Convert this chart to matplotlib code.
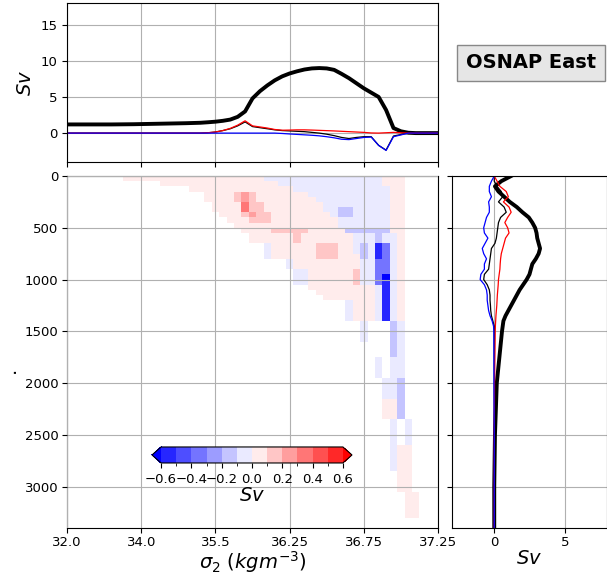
import numpy as np
import matplotlib
matplotlib.use('Agg')
import matplotlib.pyplot as plt
from matplotlib.colors import BoundaryNorm

# density axis: tick labels sit on evenly spaced bin indices
sigma_labels = ['32.0', '34.0', '35.5', '36.25', '36.75', '37.25']
sigma_tick_idx = [0, 10, 20, 30, 40, 50]
bin_idx = list(range(51))

# top panel, transport per density bin (Sv)
total_top = [1.20, 1.20, 1.20, 1.20, 1.20, 1.20, 1.20, 1.21, 1.22, 1.23,
             1.25, 1.27, 1.29, 1.31, 1.33, 1.35, 1.37, 1.40, 1.43, 1.50,
             1.58, 1.70, 1.87, 2.25, 3.00, 4.80, 5.80, 6.60, 7.30, 7.85,
             8.25, 8.55, 8.80, 8.95, 9.00, 8.95, 8.75, 8.20, 7.60, 6.90,
             6.20, 5.60, 5.00, 3.20, 0.70, 0.25, 0.05, 0.00, 0.00, 0.00,
             0.00]
red_top = [0.0, 0.0, 0.0, 0.0, 0.0, 0.0, 0.0, 0.0, 0.0, 0.0,
           0.0, 0.0, 0.0, 0.0, 0.0, 0.0, 0.0, 0.0, 0.0, 0.05,
           0.15, 0.35, 0.65, 1.10, 1.70, 1.00, 0.85, 0.70, 0.50, 0.40,
           0.42, 0.45, 0.45, 0.42, 0.38, 0.34, 0.30, 0.25, 0.20, 0.15,
           0.10, 0.02, 0.00, 0.05, 0.10, 0.05, 0.0, 0.0, 0.0, 0.0,
           0.0]
blue_top = [0.0, 0.0, 0.0, 0.0, 0.0, 0.0, 0.0, 0.0, 0.0, 0.0,
            0.0, 0.0, 0.0, 0.0, 0.0, 0.0, 0.0, 0.0, 0.0, 0.0,
            0.0, 0.0, 0.0, 0.0, 0.0, 0.0, 0.0, 0.0, 0.0, -0.05,
            -0.12, -0.18, -0.24, -0.30, -0.38, -0.50, -0.65, -0.85, -0.90, -0.75,
            -0.60, -0.55, -1.70, -2.40, -0.50, -0.25, 0.0, 0.0, 0.0, 0.0,
            0.0]
sum_top = [0.0, 0.0, 0.0, 0.0, 0.0, 0.0, 0.0, 0.0, 0.0, 0.0,
           0.0, 0.0, 0.0, 0.0, 0.0, 0.0, 0.0, 0.0, 0.0, 0.05,
           0.15, 0.35, 0.60, 1.00, 1.55, 0.90, 0.75, 0.60, 0.45, 0.35,
           0.30, 0.25, 0.20, 0.10, 0.00, -0.15, -0.35, -0.60, -0.75, -0.60,
           -0.50, -0.50, -1.70, -2.35, -0.40, -0.20, 0.0, 0.0, 0.0, 0.0,
           0.0]

# right panel, transport per depth (Sv)
depth_prof = [0, 50, 100, 150, 200, 250, 300, 350, 400, 450, 500, 550, 600, 650,
              700, 750, 800, 850, 900, 950, 1000, 1050, 1100, 1150, 1200, 1250,
              1300, 1350, 1400, 1450, 1500, 2000, 2500, 3000, 3400]
total_prof = [1.2, 0.5, 0.05, 0.3, 0.7, 1.1, 1.6, 2.0, 2.45, 2.7, 2.9, 3.0, 3.05, 3.15,
              3.25, 3.15, 2.95, 2.7, 2.6, 2.5, 2.3, 2.05, 1.8, 1.6, 1.4, 1.2,
              1.0, 0.8, 0.65, 0.6, 0.55, 0.18, 0.05, 0.0, 0.0]
red_prof = [0.0, 0.2, 0.4, 0.85, 1.0, 0.65, 1.05, 1.2, 0.95, 0.75, 0.95, 1.05, 0.8, 0.7,
            0.6, 0.5, 0.45, 0.42, 0.4, 0.35, 0.3, 0.28, 0.25, 0.22, 0.2, 0.18,
            0.15, 0.12, 0.1, 0.08, 0.07, 0.02, 0.0, 0.0, 0.0]
blue_prof = [0.0, -0.2, -0.35, -0.35, -0.2, -0.4, -0.35, -0.35, -0.55, -0.65, -0.75, -0.7, -0.45, -0.65,
             -0.85, -0.75, -0.55, -0.7, -0.7, -0.95, -1.0, -0.7, -0.55, -0.5, -0.5, -0.45,
             -0.4, -0.3, -0.15, -0.05, -0.03, -0.02, 0.0, 0.0, 0.0]
sum_prof = [0.0, 0.0, 0.2, 0.5, 0.6, 0.3, 0.7, 0.85, 0.45, 0.3, 0.25, 0.2, 0.15, 0.05,
            -0.2, -0.25, -0.3, -0.35, -0.4, -0.7, -0.75, -0.5, -0.35, -0.3, -0.3, -0.27,
            -0.25, -0.2, -0.1, 0.0, 0.0, 0.0, 0.0, 0.0, 0.0]

# depth x density map, 50 m rows; "cols+code" runs per row (range)
level_of = {'p': 0.05, 'q': 0.15, 'r': 0.25, 's': 0.35,
            'b': -0.05, 'c': -0.15, 'e': -0.35, 'g': -0.55, 'h': -0.7}
cell_runs = {
    '0': '8-26p 27-42b 43-45p',
    '1': '13-28p 29-42b 43-45p',
    '2': '17-30p 31-43b 44-45p',
    '3': '19-22p 23-23q 24-24r 25-25q 26-32p 33-43b 44-45p',
    '4': '19-22p 23-23q 24-24r 25-25q 26-33p 34-43b 44-45p',
    '5': '20-23p 24-24s 25-26q 27-34p 35-43b 44-45p',
    '6': '20-23p 24-24s 25-26q 27-34p 35-36b 37-38c 39-43b 44-45p',
    '7': '21-23p 24-24q 25-25r 26-27q 28-35p 36-36b 37-38c 39-43b 44-45p',
    '8': '22-24p 25-27q 28-36p 37-43b 44-45p',
    '9': '23-36p 37-43b 44-45p',
    '10': '24-27p 28-32q 33-37p 38-43c 44-45p',
    '11-12': '25-30p 31-31q 32-38p 39-41b 42-42c 43-44b 45-45p',
    '13-14': '27-27b 28-33p 34-36q 37-38p 39-39b 40-40c 41-41b 42-42g 43-43e 44-44b 45-45p',
    '15': '27-27b 28-33p 34-36q 37-39p 40-40c 41-41b 42-42g 43-43e 44-44b 45-45p',
    '16-17': '30-30b 31-39p 40-41b 42-43e 44-44b 45-45p',
    '18': '31-32b 33-38p 39-39q 40-41b 42-43e 44-44b 45-45p',
    '19': '31-32b 33-38p 39-39q 40-41b 42-42e 43-43h 44-44b 45-45p',
    '20': '31-32b 33-38p 39-39q 40-41b 42-42e 43-43g 44-44b 45-45p',
    '21': '33-41p 42-42b 43-43g 44-44b 45-45p',
    '22': '34-41p 42-42b 43-43g 44-44b 45-45p',
    '23': '35-41p 42-42b 43-43g 44-44b 45-45p',
    '24-27': '38-38b 39-41p 42-42b 43-43g 44-44b 45-45p',
    '28-31': '40-40b 44-44c 45-45b',
    '32-34': '44-44c 45-45b',
    '35-38': '42-42b 44-45b',
    '39-42': '43-44b 45-45c',
    '43-46': '43-44p 45-45c',
    '47-51': '44-44b 46-46b',
    '52-56': '44-44b 45-46p',
    '57-60': '45-46p',
    '61-65': '46-47p',
}

depth_edges = np.arange(0, 3401, 50)
col_edges = np.arange(-0.5, 51.0, 1.0)
grid = np.full((len(depth_edges) - 1, len(col_edges) - 1), np.nan)
for rows, spec in cell_runs.items():
    r = [int(v) for v in rows.split('-')]
    r0, r1 = r[0], r[-1]
    for tok in spec.split():
        c0, c1 = [int(v) for v in tok[:-1].split('-')]
        grid[r0:r1 + 1, c0:c1 + 1] = level_of[tok[-1]]

levels = np.round(np.arange(-0.6, 0.61, 0.1), 2)
cmap = plt.get_cmap('bwr')
norm = BoundaryNorm(levels, ncolors=cmap.N, extend='both')

fig = plt.figure(figsize=(6.07, 5.78), dpi=100)
ax_top = fig.add_axes([0.1104, 0.7197, 0.6112, 0.2751])
ax = fig.add_axes([0.1104, 0.0865, 0.6112, 0.609])
ax_r = fig.add_axes([0.7446, 0.0865, 0.2554, 0.609])
grid_kw = dict(color='#b0b0b0', lw=0.8)
tick_fs = 9.5

# main map
mesh = ax.pcolormesh(col_edges, depth_edges, grid, cmap=cmap, norm=norm)
ax.set_xlim(0, 50)
ax.set_ylim(3400, 0)
ax.set_xticks(sigma_tick_idx)
ax.set_xticklabels(sigma_labels)
ax.set_yticks([0, 500, 1000, 1500, 2000, 2500, 3000])
ax.tick_params(labelsize=tick_fs, pad=2.5)
ax.grid(True, **grid_kw)
ax.set_axisbelow(False)
ax.set_xlabel(r'$\sigma_2\ (kgm^{-3})$', fontsize=14, labelpad=0)
ax.set_ylabel('.', fontsize=14)
ax.yaxis.set_label_coords(-0.13, 0.45)

# top panel
ax_top.plot(bin_idx, total_top, color='k', lw=2.8)
ax_top.plot(bin_idx, sum_top, color='k', lw=0.9)
ax_top.plot(bin_idx, red_top, color='r', lw=0.9)
ax_top.plot(bin_idx, blue_top, color='b', lw=0.9)
ax_top.set_xlim(0, 50)
ax_top.set_ylim(-4, 18)
ax_top.set_xticks(sigma_tick_idx)
ax_top.set_xticklabels([])
ax_top.set_yticks([0, 5, 10, 15])
ax_top.tick_params(labelsize=tick_fs)
ax_top.grid(True, **grid_kw)
ax_top.set_ylabel(r'$Sv$', fontsize=14)

# right panel
ax_r.plot(total_prof, depth_prof, color='k', lw=2.8)
ax_r.plot(sum_prof, depth_prof, color='k', lw=0.9)
ax_r.plot(red_prof, depth_prof, color='r', lw=0.9)
ax_r.plot(blue_prof, depth_prof, color='b', lw=0.9)
ax_r.set_xlim(-3, 8)
ax_r.set_ylim(3400, 0)
ax_r.set_xticks([0, 5])
ax_r.set_yticks([0, 500, 1000, 1500, 2000, 2500, 3000])
ax_r.set_yticklabels([])
ax_r.tick_params(labelsize=tick_fs, pad=2.5)
ax_r.grid(True, **grid_kw)
ax_r.set_xlabel(r'$Sv$', fontsize=14, labelpad=0)

# colorbar inside the map
cax = fig.add_axes([0.2504, 0.199, 0.3295, 0.0277])
cb = fig.colorbar(mesh, cax=cax, orientation='horizontal', extend='both',
                  ticks=[-0.6, -0.4, -0.2, 0.0, 0.2, 0.4, 0.6])
cb.ax.tick_params(labelsize=tick_fs)
cb.set_label(r'$Sv$', fontsize=14, labelpad=0)

fig.text(531 / 607, 1 - 63 / 578, 'OSNAP East', fontsize=14, fontweight='bold',
         ha='center', va='center',
         bbox=dict(boxstyle='square,pad=0.45', facecolor='#e6e6e6', edgecolor='#888888'))

fig.savefig('out.png', dpi=100)
